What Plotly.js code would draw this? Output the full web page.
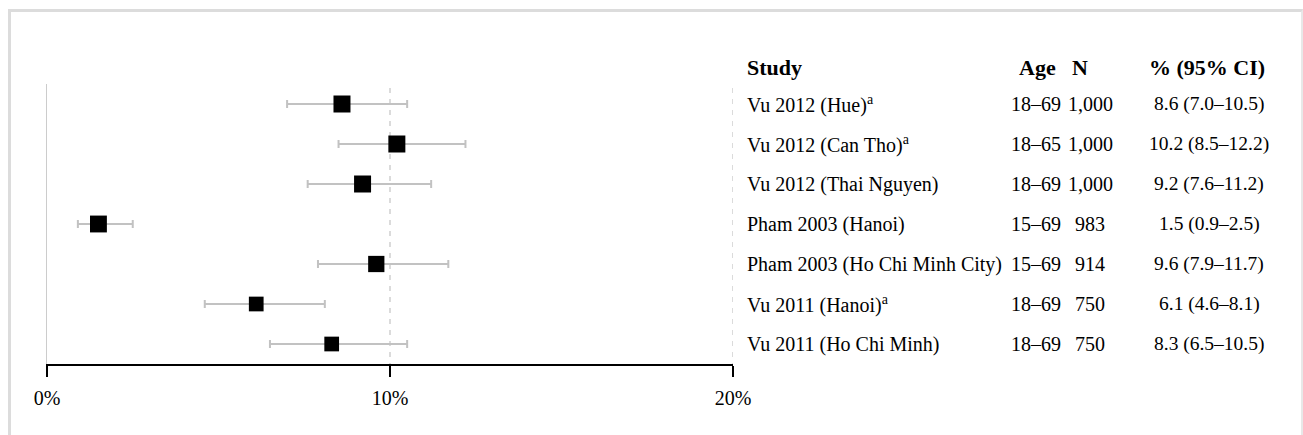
<!DOCTYPE html>
<html><head><meta charset="utf-8">
<script src="https://cdn.plot.ly/plotly-3.0.1.min.js"></script>
<style>
html,body{margin:0;padding:0;background:#fff;overflow:hidden;}
#frame{position:absolute;left:8px;top:9px;width:1290px;height:423px;border-left:3px solid #dcdcdc;border-top:3px solid #dcdcdc;border-right:2px solid #e8e8e8;}
#chart{position:absolute;left:0;top:0;width:1303px;height:435px;}
</style></head><body>
<div id="frame"></div><div id="chart"></div>
<script>
// ---- data ----
const studies = ["Vu 2012 (Hue)", "Vu 2012 (Can Tho)", "Vu 2012 (Thai Nguyen)", "Pham 2003 (Hanoi)", "Pham 2003 (Ho Chi Minh City)", "Vu 2011 (Hanoi)", "Vu 2011 (Ho Chi Minh)"];
const footnote = [true, true, false, false, false, true, false];
const ages = ["18\u201369", "18\u201365", "18\u201369", "15\u201369", "15\u201369", "18\u201369", "18\u201369"];
const ns = [1000, 1000, 1000, 983, 914, 750, 750];
const pct = [8.6, 10.2, 9.2, 1.5, 9.6, 6.1, 8.3];
const lo = [7.0, 8.5, 7.6, 0.9, 7.9, 4.6, 6.5];
const hi = [10.5, 12.2, 11.2, 2.5, 11.7, 8.1, 10.5];
const xTickVals = [0, 10, 20];
const xTickText = ["0%", "10%", "20%"];
const headers = ["Study", "Age", "N", "% (95% CI)"];

// ---- layout helpers ----
const W = 1303, H = 435;
const L = 47, R = 733, T = 84, B = 364;
const px = v => (v - L) / (R - L);
const py = v => (B - v) / (B - T);
const font = "Liberation Serif, Times New Roman, serif";
const rows = studies.map((_, i) => i + 1);
const fmt = n => n.toLocaleString("en-US");

const trace = {
  type: "scatter", mode: "markers",
  x: pct, y: rows,
  marker: {symbol: "square", color: "#000000", opacity: 1, size: ns.map(n => 17 * Math.sqrt(n / 1000)), line: {width: 0}},
  error_x: {type: "data", symmetric: false,
    array: hi.map((h, i) => h - pct[i]), arrayminus: lo.map((l, i) => pct[i] - l),
    color: "#c2c2c2", thickness: 2, width: 4},
  hoverinfo: "skip", cliponaxis: false
};

const ann = [];
const colX = {study: 745, age: 1036, n: 1090, ci: 1209};
const addA = (text, x, y, yref, anchor, size) => ann.push({
  xref: "paper", yref: yref, x: px(x), y: y, text: text,
  showarrow: false, xanchor: anchor, yanchor: "middle",
  font: {family: font, size: size, color: "#000"}
});
const hy = py(67);
addA("<b>" + headers[0] + "</b>", colX.study, hy, "paper", "left", 22);
addA("<b>" + headers[1] + "</b>", 1037, hy, "paper", "center", 22);
addA("<b>" + headers[2] + "</b>", 1080, hy, "paper", "center", 22);
addA("<b>" + headers[3] + "</b>", 1207, hy, "paper", "center", 22);
studies.forEach((s, i) => {
  addA(s + (footnote[i] ? "<sup>a</sup>" : ""), colX.study, rows[i], "y", "left", 20);
  addA(ages[i], colX.age, rows[i], "y", "center", 20);
  addA(fmt(ns[i]), colX.n, rows[i], "y", "center", 20);
  addA(pct[i].toFixed(1) + " (" + lo[i].toFixed(1) + "\u2013" + hi[i].toFixed(1) + ")", colX.ci, rows[i], "y", "center", 19.5);
});

const shapes = [10, 20].map(v => ({
  type: "line", xref: "x", yref: "y", x0: v, x1: v, y0: 0.6, y1: 7.5,
  line: {color: "#cfcfcf", width: 1.5, dash: "5px,6px"}, layer: "below"
}));

const layout = {
  width: W, height: H,
  margin: {l: L, r: W - R, t: T, b: H - B, pad: 0},
  paper_bgcolor: "rgba(0,0,0,0)", plot_bgcolor: "rgba(0,0,0,0)",
  showlegend: false,
  font: {family: font, size: 20, color: "#000"},
  xaxis: {range: [0, 20], tickvals: xTickVals, ticktext: xTickText,
    showgrid: false, zeroline: false, showline: true, linecolor: "#000", linewidth: 2,
    ticks: "outside", ticklen: 11, tickwidth: 2, tickcolor: "#000", ticklabelstandoff: 4,
    tickfont: {family: font, size: 20, color: "#000"}, fixedrange: true},
  yaxis: {range: [7.5, 0.5], showgrid: false, zeroline: false, showticklabels: false,
    showline: true, linecolor: "#cccccc", linewidth: 1.5, ticks: "", fixedrange: true},
  shapes: shapes,
  annotations: ann
};

Plotly.newPlot("chart", [trace], layout, {staticPlot: true, displayModeBar: false});
</script>
</body></html>
